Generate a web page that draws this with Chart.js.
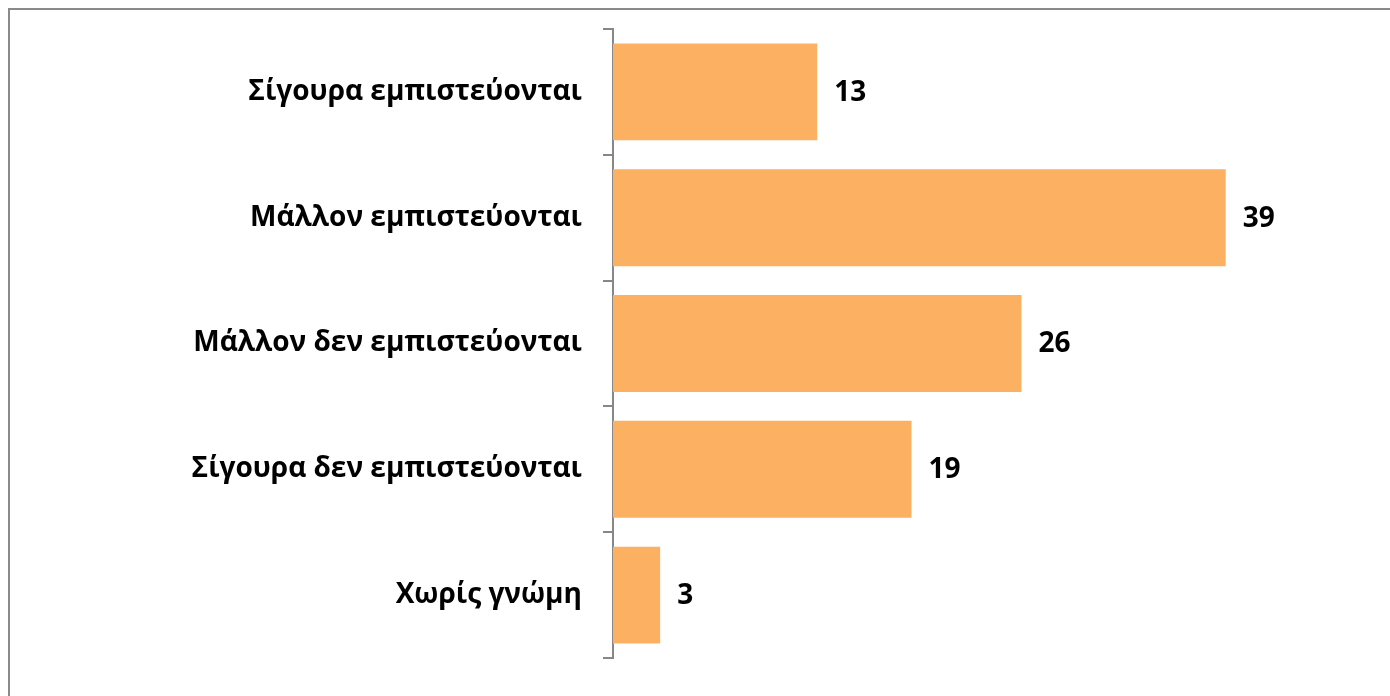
<!DOCTYPE html>
<html>
<head>
<meta charset="utf-8">
<script src="https://cdn.jsdelivr.net/npm/chart.js@4"></script>
<style>
  html, body { margin: 0; padding: 0; background: #fff; overflow: hidden; }
  #wrap { position: relative; width: 1390px; height: 696px; }
  #frame { position: absolute; left: 8px; top: 8px; width: 1400px; height: 720px;
           border: 2px solid #8a8a8a; box-sizing: border-box; pointer-events: none; }
  canvas { position: absolute; left: 0; top: 0; }
</style>
</head>
<body>
<div id="wrap">
  <canvas id="chart" width="1390" height="696"></canvas>
  <div id="frame"></div>
</div>
<script>
const categories = [
  'Σίγουρα εμπιστεύονται',
  'Μάλλον εμπιστεύονται',
  'Μάλλον δεν εμπιστεύονται',
  'Σίγουρα δεν εμπιστεύονται',
  'Χωρίς γνώμη'
];
const values = [13, 39, 26, 19, 3];

const FONT = '"Open Sans", "Noto Sans", sans-serif';

// draws the value next to the end of each bar
const valueLabels = {
  id: 'valueLabels',
  afterDatasetsDraw(chart) {
    const ctx = chart.ctx;
    const meta = chart.getDatasetMeta(0);
    ctx.save();
    ctx.font = 'bold 28px ' + FONT;
    ctx.fillStyle = '#000';
    ctx.textAlign = 'left';
    ctx.textBaseline = 'middle';
    meta.data.forEach((bar, i) => {
      ctx.fillText(String(values[i]), bar.x + 17, bar.y + 1);
    });
    ctx.restore();
  }
};

const ctx = document.getElementById('chart').getContext('2d');
new Chart(ctx, {
  type: 'bar',
  data: {
    labels: categories,
    datasets: [{
      data: values,
      backgroundColor: '#fcb162',
      borderWidth: 0,
      categoryPercentage: 1,
      barPercentage: 0.77
    }]
  },
  options: {
    indexAxis: 'y',
    responsive: false,
    animation: false,
    layout: {
      padding: { left: 0, right: 70, top: 29, bottom: 38 }
    },
    scales: {
      x: {
        display: false,
        min: 0,
        max: 45
      },
      y: {
        afterFit: (scale) => {
          scale.width = 613;
          scale.paddingTop = 0;
          scale.paddingBottom = 0;
        },
        border: { display: true, color: '#878787', width: 2 },
        grid: {
          offset: true,
          drawOnChartArea: false,
          drawTicks: true,
          tickLength: 10,
          color: '#878787',
          lineWidth: 2
        },
        ticks: {
          padding: 21,
          color: '#000',
          font: { family: FONT, size: 28, weight: 'bold' }
        }
      }
    },
    plugins: {
      legend: { display: false },
      tooltip: { enabled: false }
    }
  },
  plugins: [valueLabels]
});
</script>
</body>
</html>
